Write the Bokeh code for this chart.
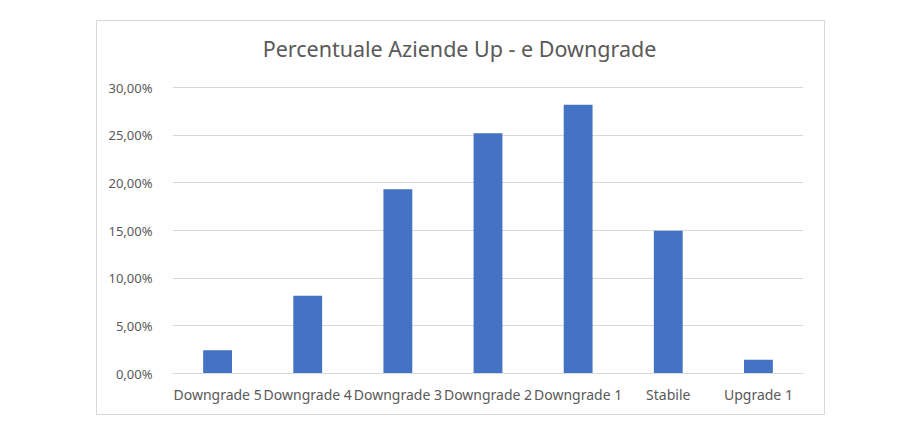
from bokeh.plotting import figure
from bokeh.layouts import column, row
from bokeh.models import Spacer, CustomJSTickFormatter, FixedTicker, ColumnDataSource, Label
from bokeh.embed import file_html
from bokeh.resources import INLINE

categories = ["Downgrade 5", "Downgrade 4", "Downgrade 3", "Downgrade 2", "Downgrade 1", "Stabile", "Upgrade 1"]
values = [0.0245, 0.0815, 0.1934, 0.2521, 0.2818, 0.1497, 0.0144]
y_ticks = [0.0, 0.05, 0.10, 0.15, 0.20, 0.25, 0.30]
title_text = "Percentuale Aziende Up - e Downgrade"

FONT = "Noto Sans"
TXT = "#595959"
GRID = "#d9d9d9"

# the plotting frame reaches the top of the box; the title sits in the headroom above 30%
FRAME_H = 352
PLOT_H = 286
y_end = y_ticks[-1] * FRAME_H / PLOT_H

src = ColumnDataSource(dict(cat=categories, val=values))

p = figure(x_range=categories, y_range=(0, y_end), width=729, height=395,
           output_backend="svg", toolbar_location=None,
           min_border_left=75, min_border_right=23, min_border_top=0, min_border_bottom=43)
p.vbar(x="cat", top="val", width=0.32, source=src, color="#4472C4", line_color=None)

title = Label(x=287, y=325, x_units="screen", y_units="screen", text=title_text,
              text_align="center", text_baseline="middle", text_font=FONT,
              text_font_size="21.5px", text_color=TXT)
p.add_layout(title)

p.outline_line_color = None
p.xgrid.grid_line_color = None
p.ygrid.grid_line_color = GRID
p.ygrid.grid_line_width = 1

p.yaxis.ticker = FixedTicker(ticks=y_ticks)
p.yaxis.formatter = CustomJSTickFormatter(code="return (tick*100).toFixed(2).replace('.', ',') + '%';")
p.yaxis.axis_line_color = None
p.yaxis.major_tick_line_color = None
p.yaxis.minor_tick_line_color = None
p.yaxis.major_label_standoff = 14
p.yaxis.major_label_text_font = FONT
p.yaxis.major_label_text_font_size = "13px"
p.yaxis.major_label_text_color = TXT

p.xaxis.axis_line_color = GRID
p.xaxis.major_tick_line_color = None
p.xaxis.minor_tick_line_color = None
p.xaxis.major_label_standoff = 5
p.xaxis.major_label_text_font = FONT
p.xaxis.major_label_text_font_size = "14px"
p.xaxis.major_label_text_color = TXT

p.styles = {"border": "1px solid #d9d9d9"}

layout = column(Spacer(height=20), row(Spacer(width=96), p))

open("out.html", "w").write(file_html(layout, INLINE))
